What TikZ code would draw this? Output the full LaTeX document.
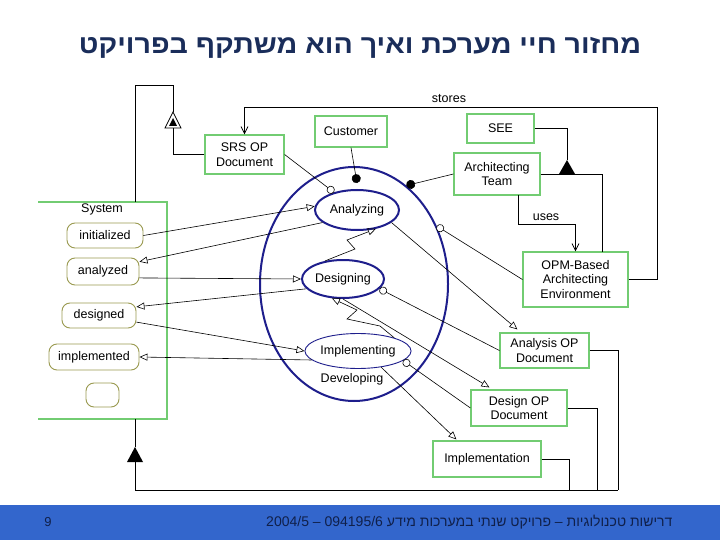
\documentclass[tikz,border=0pt]{standalone}
\usepackage{fontspec}
\setmainfont{Liberation Sans}
\newfontfamily\hebfont[Script=Hebrew]{Liberation Sans}
\newfontfamily\hebtitle[Script=Hebrew,FakeStretch=1.1]{Liberation Sans}
\TeXXeTstate=1
\usetikzlibrary{arrows.meta,shapes.geometric}
\definecolor{boxgreen}{HTML}{72CC72}
\definecolor{stategold}{HTML}{9A9A50}
\definecolor{procblue}{HTML}{1E1E8C}
\definecolor{titleblue}{HTML}{1A2D5A}
\definecolor{footblue}{HTML}{3366CC}
\definecolor{foottext}{HTML}{10204A}
\tikzset{
  txt/.style={font=\fontsize{12.5}{14.5}\selectfont},
  obj/.style={draw=boxgreen, line width=1.2pt, align=center, inner sep=0pt, txt},
  stt/.style={draw=stategold, line width=0.9pt, rounded corners=8pt, inner sep=0pt, txt},
  proc/.style={ellipse, draw=procblue, line width=2pt, inner sep=0pt, txt},
  thinproc/.style={ellipse, draw=procblue, line width=0.9pt, inner sep=0pt, txt},
  lnk/.style={draw=black, line width=0.6pt},
  res/.style={lnk, -{Triangle[open,length=8pt,width=7pt]}},
  inst/.style={lnk, -{Circle[open,length=8pt,width=8pt,fill=white]}},
  agnt/.style={lnk, -{Circle[length=9pt,width=9pt]}},
  strl/.style={draw=black, line width=0.8pt},
  barb/.style={strl, -{Straight Barb[length=7pt,width=7pt]}},
}
\begin{document}
\begin{tikzpicture}[x=1pt,y=-1pt]
\useasboundingbox (0,0) rectangle (720,540);
\fill[white] (0,0) rectangle (720,540);
% title
\node[text=titleblue] (title) at (360,48) {\hebtitle\bfseries\fontsize{26}{30}\selectfont\beginR מחזור חיי מערכת ואיך הוא משתקף בפרויקט\endR};
% footer
\fill[footblue] (0,505) rectangle (720,540);
\node[text=foottext, font=\fontsize{13}{15}\selectfont] (pnum) at (48,522) {9};
\node[text=foottext, anchor=east, font=\hebfont\fontsize{14}{16}\selectfont] (foot) at (676,522) {\beginR דרישות טכנולוגיות – פרויקט שנתי במערכות מידע \beginL 2004/5 – 094195/6\endL\endR};

% objects
\node[obj, minimum width=79pt, minimum height=39pt] (srs) at (244.5,154.5) {SRS OP\\Document};
\node[obj, minimum width=72pt, minimum height=31pt] (cust) at (351,131.5) {Customer};
\node[obj, minimum width=67pt, minimum height=29pt] (see) at (500.5,128.5) {SEE};
\node[obj, minimum width=86pt, minimum height=42pt] (team) at (497,174) {Architecting\\Team};
\node[obj, minimum width=105pt, minimum height=55pt] (opm) at (575.5,279.5) {OPM-Based\\Architecting\\Environment};
\node[obj, minimum width=89pt, minimum height=35pt] (ana) at (544.5,350.5) {Analysis OP\\Document};
\node[obj, minimum width=96pt, minimum height=36pt] (des) at (519,408) {Design OP\\Document};
\node[obj, minimum width=108pt, minimum height=36pt] (impl) at (487,459) {Implementation};

% system object (open at left)
\coordinate (systl) at (38,202);
\coordinate (systr) at (167,202);
\coordinate (sysbr) at (167,419);
\coordinate (sysbl) at (38,419);
\draw[draw=boxgreen, line width=1.2pt] (systl) -- (systr) -- (sysbr) -- (sysbl);
\node[txt] (systxt) at (102,209.5) {System};
\coordinate (systop) at (135,202);
\coordinate (sysbot) at (135,419);

% states
\node[stt, minimum width=76pt, minimum height=25pt] (s1) at (105,235.5) {initialized};
\node[stt, minimum width=72pt, minimum height=27pt] (s2) at (103,271.5) {analyzed};
\node[stt, minimum width=74pt, minimum height=25pt] (s3) at (99,315.5) {designed};
\node[stt, minimum width=90pt, minimum height=26pt] (s4) at (94,357) {implemented};
\node[stt, minimum width=33pt, minimum height=24pt] (s5) at (102.5,395) {};

% processes
\node[proc, minimum width=188pt, minimum height=234pt] (dev) at (354,284) {};
\node[txt] (devtxt) at (352,379) {Developing};
\node[proc, minimum width=84pt, minimum height=40pt] (anz) at (357,210) {Analyzing};
\node[proc, minimum width=82pt, minimum height=38pt] (dsg) at (343,279) {Designing};
\node[thinproc, minimum width=98pt, minimum height=35pt] (imp) at (358,351) {Implementing};

% state transitions
\draw[res] (s1.east) -- (anz.175);
\draw[res] (anz.200) -- (s2.15);
\draw[res] (s2.-10) -- (dsg.west);
\draw[res] (dsg.195) -- (s3.13);
\draw[res] (s3.-10) -- (imp.west);
\draw[res] (imp.191) -- (s4.east);

% results
\draw[res] (anz.-20) -- ([xshift=18pt,yshift=3pt]ana.north west);
\draw[res] (dsg.south) -- ([xshift=19pt,yshift=2pt]des.north west);
\draw[res] (imp.-35) -- ([xshift=24pt,yshift=1pt]impl.north west);

% instruments
\draw[inst] (srs.east) -- (anz);
\draw[inst] (opm.west) -- (dev.35);
\draw[inst] (ana.west) -- (dsg.-15);
\draw[inst] (des.west) -- (imp.-12);

% agents
\draw[agnt] (cust.south) -- ([xshift=3pt,yshift=-17pt]dev.north);
\draw[agnt] (team.west) -- (dev.62);

% invocations
\coordinate (z1a) at (355,249);
\coordinate (z1b) at (347,240);
\draw[res] (dsg.135) -- (z1a) -- (z1b) -- (anz.-45);
\coordinate (z2c) at (380,326);
\coordinate (z2a) at (347,319);
\coordinate (z2b) at (357,310);
\draw[res] (imp.20) -- (z2c) -- (z2a) -- (z2b) -- (dsg.240);

% stores
\coordinate (st1) at (657,279.5);
\coordinate (st2) at (657,107);
\coordinate (st3) at (244.5,107);
\draw[barb] (opm.east) -- (st1) -- (st2) -- (st3) -- (srs.north);
\node[txt, anchor=south] (storestxt) at (449,106) {stores};

% uses
\coordinate (us0) at (518,195);
\coordinate (us1) at (518,224);
\coordinate (us2) at (575.5,224);
\draw[barb] (us0) -- (us1) -- (us2) -- (opm.north);
\node[txt, anchor=south] (usestxt) at (546,224) {uses};

% SEE aggregation
\coordinate (sa1) at (567,128.5);
\coordinate (sapex) at (567,160);
\coordinate (sbase) at (567,174);
\coordinate (sr) at (602,174);
\coordinate (sopm) at (602,252);
\draw[strl] (see.east) -- (sa1) -- (sapex);
\fill[black] (sapex) -- ([xshift=-8pt]sbase) -- ([xshift=8pt]sbase) -- cycle;
\draw[strl] (team.east) -- (sr) -- (sopm);

% SRS exhibition
\coordinate (ex1) at (173,154.5);
\coordinate (exbase) at (173,128);
\coordinate (exapex) at (173,112);
\coordinate (ex2) at (173,85);
\coordinate (ex3) at (135,85);
\draw[strl] (srs.west) -- (ex1) -- (exbase);
\draw[strl] (exapex) -- (ex2) -- (ex3) -- (systop);
\draw[strl, fill=white] (exapex) -- ([xshift=-8pt]exbase) -- ([xshift=8pt]exbase) -- cycle;
\fill[black] ([yshift=-6pt]exapex) -- ([xshift=-4pt,yshift=2pt]exbase) -- ([xshift=4pt,yshift=2pt]exbase) -- cycle;

% System aggregation (bottom)
\coordinate (agapex) at (135,447);
\coordinate (agbase) at (135,462);
\coordinate (ag0) at (135,490);
\coordinate (ag1) at (618,490);
\draw[strl] (sysbot) -- (agapex);
\fill[black] (agapex) -- ([xshift=-8pt]agbase) -- ([xshift=8pt]agbase) -- cycle;
\draw[strl] (agbase) -- (ag0) -- (ag1);
\coordinate (ar1) at (618,350.5);
\draw[strl] (ana.east) -- (ar1) -- (ag1);
\coordinate (dr1) at (597,408);
\coordinate (dr2) at (597,490);
\draw[strl] (des.east) -- (dr1) -- (dr2);
\coordinate (ir1) at (569,459);
\coordinate (ir2) at (569,490);
\draw[strl] (impl.east) -- (ir1) -- (ir2);
\end{tikzpicture}
\end{document}
